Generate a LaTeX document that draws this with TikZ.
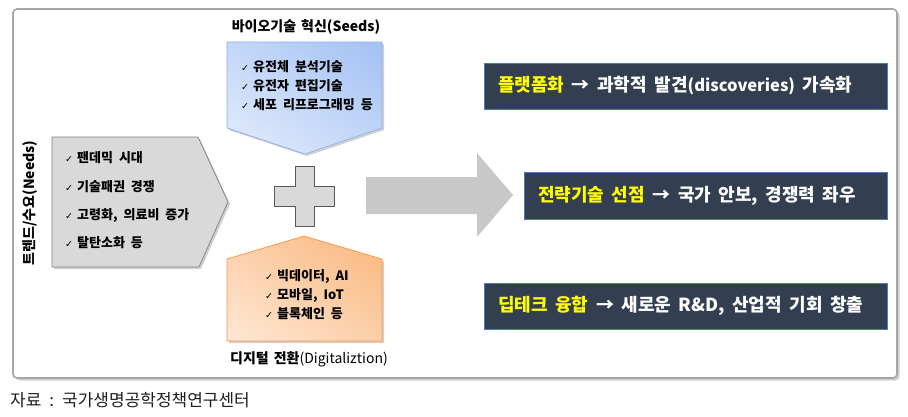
\documentclass[tikz,border=0pt]{standalone}
\usepackage{fontspec}
\usetikzlibrary{shadings}
\setmainfont{Noto Sans CJK KR}
\newfontfamily\chkfont{DejaVu Sans}
\definecolor{framecol}{HTML}{A6A6A6}
\definecolor{shadowcol}{HTML}{D0D0D0}
\definecolor{needfill}{HTML}{D9D9D9}
\definecolor{needdraw}{HTML}{7F7F7F}
\definecolor{plusdraw}{HTML}{595959}
\definecolor{arrowfill}{HTML}{C8C8C8}
\definecolor{bluelight}{HTML}{E4EDFC}
\definecolor{bluedark}{HTML}{A3C1F4}
\definecolor{bluedraw}{HTML}{8DB0E6}
\definecolor{orglight}{HTML}{FEE8D6}
\definecolor{orgdark}{HTML}{FAB67C}
\definecolor{orgdraw}{HTML}{F79646}
\definecolor{darkbox}{HTML}{333F50}
\definecolor{darkboxdraw}{HTML}{4A7EBB}
\definecolor{hiyellow}{HTML}{FFFF00}
\definecolor{captioncol}{HTML}{1E1E1E}
\newcommand\chk{{\chkfont\fontsize{9.5}{10}\selectfont ✓}\hspace{4pt}}
\protected\def\setwordsp#1{\spaceskip=#1\relax}
\begin{document}
\begin{tikzpicture}[x=1pt,y=-1pt,
  itemtxt/.style={anchor=west, inner sep=0pt, font=\fontsize{13}{15}\selectfont\bfseries, execute at begin node=\setwordsp{6pt}},
  titletxt/.style={inner sep=0pt, font=\fontsize{14}{16}\selectfont\bfseries, execute at begin node=\setwordsp{5pt}},
  boxtxt/.style={anchor=west, inner sep=0pt, text=white, font=\fontsize{18}{20}\selectfont\bfseries, execute at begin node=\setwordsp{7.5pt}},
  darkpanel/.style={fill=darkbox, draw=darkboxdraw, line width=0.8pt},
  softshadow/.style={fill=shadowcol},
]
\useasboundingbox (0,0) rectangle (908,416);
% outer frame
\fill[shadowcol, rounded corners=4pt] (15.5,11.5) rectangle (899.5,380.5);
\draw[framecol, line width=1.6pt, fill=white, rounded corners=4pt] (13,9) rectangle (897,378);

% Needs pentagon
\fill[softshadow] (54,139) -- (200,139) -- (230,204) -- (201,269) -- (54,269) -- cycle;
\draw[fill=needfill, draw=needdraw, line width=0.7pt] (52,137) -- (198,137) -- (228,202) -- (199,267) -- (52,267) -- cycle;
\node[titletxt, rotate=90] (needs) at (30,203) {트렌드/수요(Needs)};
\node[itemtxt] (n1) at (65,158) {\chk 팬데믹 시대};
\node[itemtxt] (n2) at (65,187) {\chk 기술패권 경쟁};
\node[itemtxt] (n3) at (65,215.5) {\chk 고령화, 의료비 증가};
\node[itemtxt] (n4) at (65,243) {\chk 탈탄소화 등};

% Seeds pentagon
\node[titletxt] (seeds) at (306,27) {바이오기술 혁신(Seeds)};
\fill[softshadow] (229,44) -- (384,44) -- (384,130) -- (307,156) -- (229,130) -- cycle;
\shadedraw[draw=bluedraw, line width=0.7pt, lower left=bluelight, upper right=bluedark, lower right=bluelight!50!bluedark, upper left=bluelight!50!bluedark]
  (227,42) -- (382,42) -- (382,128) -- (305,154) -- (227,128) -- cycle;
\node[itemtxt] (s1) at (241,67) {\chk 유전체 분석기술};
\node[itemtxt] (s2) at (241,86) {\chk 유전자 편집기술};
\node[itemtxt] (s3) at (241,105) {\chk 세포 리프로그래밍 등};

% plus
\draw[fill=needfill, draw=plusdraw, line width=0.7pt]
  (295,166) -- (314,166) -- (314,186) -- (334,186) -- (334,206) -- (314,206) -- (314,226)
  -- (295,226) -- (295,206) -- (274,206) -- (274,186) -- (295,186) -- cycle;

% Digitalization pentagon
\fill[softshadow] (229,261) -- (306,238) -- (384,261) -- (384,343) -- (229,343) -- cycle;
\shadedraw[draw=orgdraw, line width=0.7pt, lower left=orglight, upper right=orgdark, lower right=orglight!50!orgdark, upper left=orglight!50!orgdark]
  (227,259) -- (304,236) -- (382,259) -- (382,341) -- (227,341) -- cycle;
\node[itemtxt] (d1) at (265,276) {\chk 빅데이터, AI};
\node[itemtxt] (d2) at (265,295) {\chk 모바일, IoT};
\node[itemtxt] (d3) at (265,314) {\chk 블록체인 등};
\node[titletxt] (digi) at (309,359) {디지털 전환\mdseries(Digitaliztion)};

% big arrow
\fill[arrowfill] (366,177) -- (477,177) -- (477,153) -- (513,195) -- (477,237) -- (477,214) -- (366,214) -- cycle;

% dark boxes
\draw[darkpanel] (484,63) rectangle (887,109);
\draw[darkpanel] (524,172) rectangle (887,219);
\draw[darkpanel] (484,283) rectangle (887,329);
\node[boxtxt] (b1) at (498,86) {\textcolor{hiyellow}{플랫폼화} → 과학적 발견{\fontsize{16.5}{19}\selectfont(discoveries)} 가속화};
\node[boxtxt] (b2) at (538,195.5) {\textcolor{hiyellow}{전략기술 선점} → 국가 안보, 경쟁력 좌우};
\node[boxtxt] (b3) at (498,306) {\textcolor{hiyellow}{딥테크 융합} → 새로운 R\&D, 산업적 기회 창출};

% caption
\node[anchor=west, inner sep=0pt, text=captioncol, font=\fontsize{17}{19}\selectfont] (cap) at (10,400) {자료\hspace{8pt}:\hspace{8pt}국가생명공학정책연구센터};
\end{tikzpicture}
\end{document}
